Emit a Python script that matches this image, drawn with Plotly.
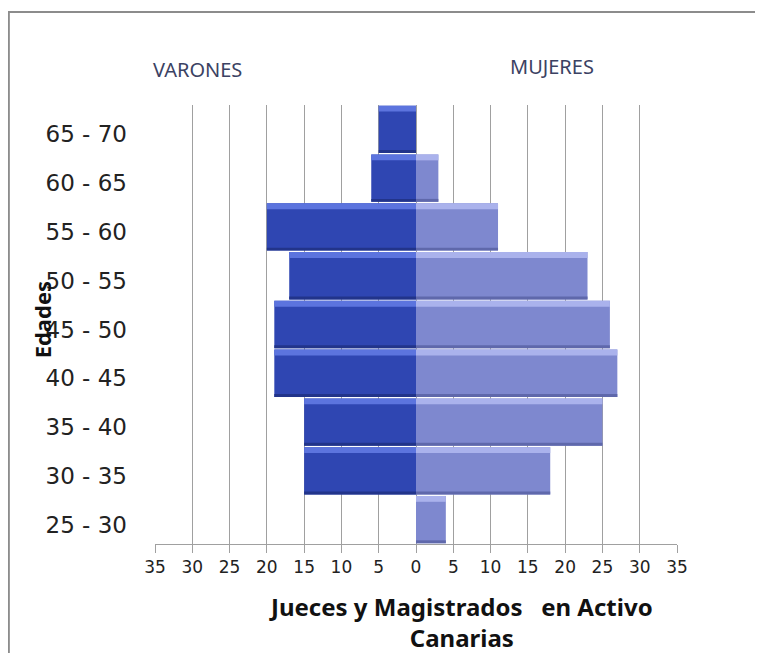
import plotly.graph_objects as go

edades = ["25 - 30", "30 - 35", "35 - 40", "40 - 45", "45 - 50",
          "50 - 55", "55 - 60", "60 - 65", "65 - 70"]
varones = [0, 15, 15, 19, 19, 17, 20, 6, 5]
mujeres = [4, 18, 25, 27, 26, 23, 11, 3, 0]
x_ticks = [-35, -30, -25, -20, -15, -10, -5, 0, 5, 10, 15, 20, 25, 30, 35]
x_ticktext = [str(abs(v)) for v in x_ticks]

DARK = "#2f46b2"
DARK_HI = "#5c74de"
DARK_LO = "#22348a"
LIGHT = "#7e88cf"
LIGHT_HI = "#aab2ec"
LIGHT_LO = "#5f68ab"

neg_varones = [-v for v in varones]

fig = go.Figure()

def add_bars(xvals, main, hi, lo, name):
    fig.add_trace(go.Bar(y=edades, x=xvals, orientation="h", name=name,
                         marker=dict(color=main, line=dict(width=0)),
                         width=0.97, showlegend=False))
    fig.add_trace(go.Bar(y=edades, x=xvals, orientation="h",
                         marker=dict(color=hi, line=dict(width=0)),
                         width=0.12, offset=0.365, showlegend=False,
                         hoverinfo="skip"))
    fig.add_trace(go.Bar(y=edades, x=xvals, orientation="h",
                         marker=dict(color=lo, line=dict(width=0)),
                         width=0.06, offset=-0.485, showlegend=False,
                         hoverinfo="skip"))

add_bars(neg_varones, DARK, DARK_HI, DARK_LO, "Varones")
add_bars(mujeres, LIGHT, LIGHT_HI, LIGHT_LO, "Mujeres")

fig.update_layout(
    barmode="overlay",
    width=755, height=645,
    margin=dict(l=147, r=86, t=97, b=109),
    paper_bgcolor="white", plot_bgcolor="white",
    font=dict(family="DejaVu Sans", color="#222222"),
    xaxis=dict(range=[-35, 35], tickvals=x_ticks, ticktext=x_ticktext,
               tickfont=dict(size=17, family="DejaVu Sans", color="#222"),
               showgrid=True, gridcolor="#a0a0a0", gridwidth=1,
               zeroline=True, zerolinecolor="#a0a0a0", zerolinewidth=1,
               showline=True, linecolor="#a0a0a0", linewidth=1,
               ticks="outside", ticklen=8, tickcolor="#a0a0a0"),
    yaxis=dict(categoryorder="array", categoryarray=edades,
               range=[-0.5, 8.5],
               tickfont=dict(size=23, family="DejaVu Sans", color="#222"),
               showgrid=False, showline=False, ticks="",
               ticklabelstandoff=27, ticklabelshift=5),
    annotations=[
        dict(text="<b>Jueces y Magistrados   en Activo<br>Canarias</b>",
             xref="paper", yref="paper", x=0.586, y=-0.10,
             xanchor="center", yanchor="top", showarrow=False,
             font=dict(size=24, family="Noto Sans", color="#111")),
        dict(text="<b>Edades</b>", xref="paper", yref="paper",
             x=-0.216, y=0.51, textangle=-90, showarrow=False,
             xanchor="center", yanchor="middle",
             font=dict(size=22, family="Noto Sans", color="#111")),
        dict(text="VARONES", xref="paper", yref="paper",
             x=0.081, y=1.08, showarrow=False,
             xanchor="center", yanchor="middle",
             font=dict(size=20, family="Noto Sans", color="#3b4263")),
        dict(text="MUJERES", xref="paper", yref="paper",
             x=0.761, y=1.087, showarrow=False,
             xanchor="center", yanchor="middle",
             font=dict(size=20, family="Noto Sans", color="#3b4263")),
    ],
    shapes=[dict(type="rect", xref="paper", yref="paper",
                 x0=-0.28, x1=2.0, y0=-1.0, y1=1.212,
                 line=dict(color="#8c8c8c", width=2), layer="below")],
)

fig.write_html("out.html")
